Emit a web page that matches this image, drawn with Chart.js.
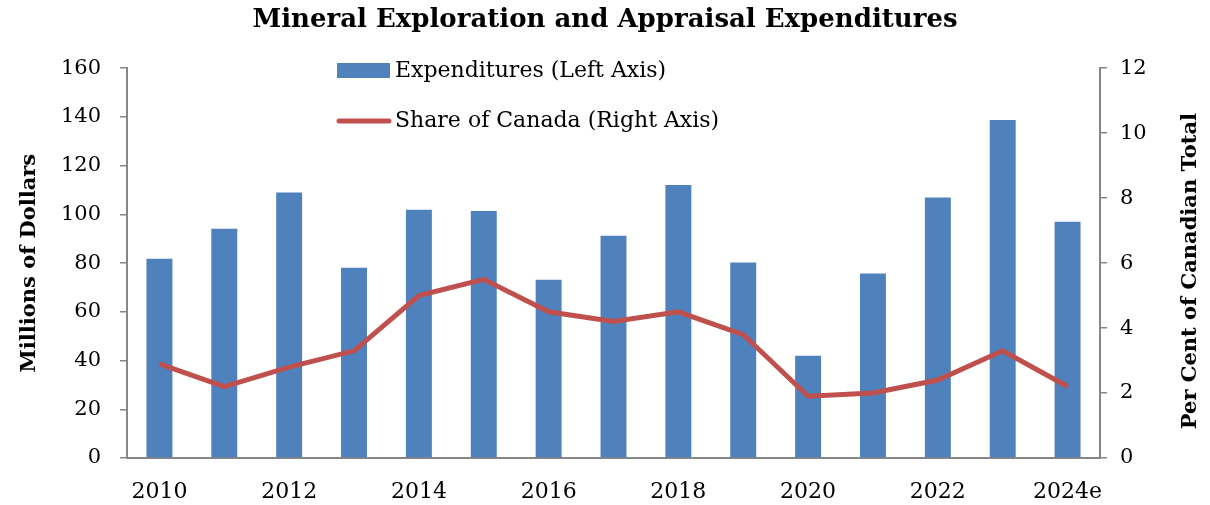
<!DOCTYPE html>
<html>
<head>
<meta charset="utf-8">
<script src="https://cdn.jsdelivr.net/npm/chart.js@4"></script>
<style>
  html, body { margin: 0; padding: 0; background: #fff; }
  #wrap { width: 1210px; height: 505px; }
</style>
</head>
<body>
<div id="wrap"><canvas id="chart" width="1210" height="505"></canvas></div>
<script>
const years = ['2010', '2011', '2012', '2013', '2014', '2015', '2016', '2017', '2018', '2019', '2020', '2021', '2022', '2023', '2024e'];
const expenditures = [81.8, 94.1, 109.0, 78.1, 101.9, 101.4, 73.2, 91.2, 112.1, 80.2, 42.0, 75.7, 106.9, 138.7, 97.0];
const shareOfCanada = [2.9, 2.2, 2.8, 3.3, 5.0, 5.5, 4.5, 4.2, 4.5, 3.8, 1.9, 2.0, 2.4, 3.3, 2.2];

const serif = "'DejaVu Serif', 'Liberation Serif', serif";
const axisGray = '#868686';

// legend sits inside the plot, and the right title reads bottom-to-top
const extrasPlugin = {
    id: 'extras',
    afterDraw(chart) {
        const ctx = chart.ctx;
        ctx.save();
        ctx.font = '22px ' + serif;
        ctx.fillStyle = '#000';
        ctx.textBaseline = 'middle';
        ctx.textAlign = 'left';

        ctx.fillStyle = chart.data.datasets[0].backgroundColor;
        ctx.fillRect(337, 63, 53, 15);
        ctx.fillStyle = '#000';
        ctx.fillText(chart.data.datasets[0].label, 395, 71);

        ctx.strokeStyle = chart.data.datasets[1].borderColor;
        ctx.lineWidth = 5;
        ctx.lineCap = 'round';
        ctx.beginPath();
        ctx.moveTo(339, 121);
        ctx.lineTo(389, 121);
        ctx.stroke();
        ctx.fillText(chart.data.datasets[1].label, 395, 121);

        const area = chart.chartArea;
        ctx.translate(1191, (area.top + area.bottom) / 2 + 8);
        ctx.rotate(-Math.PI / 2);
        ctx.textAlign = 'center';
        ctx.font = 'bold 21px ' + serif;
        ctx.fillText('Per Cent of Canadian Total', 0, 0);
        ctx.restore();
    }
};

new Chart(document.getElementById('chart'), {
    type: 'bar',
    data: {
        labels: years,
        datasets: [{
            label: 'Expenditures (Left Axis)',
            data: expenditures,
            yAxisID: 'y',
            backgroundColor: '#4F81BD',
            categoryPercentage: 1,
            barPercentage: 0.4,
            order: 1
        }, {
            type: 'line',
            label: 'Share of Canada (Right Axis)',
            data: shareOfCanada,
            yAxisID: 'y1',
            borderColor: '#C0504D',
            backgroundColor: '#C0504D',
            borderWidth: 5,
            pointRadius: 0,
            tension: 0,
            order: 0
        }]
    },
    options: {
        responsive: false,
        animation: false,
        plugins: {
            legend: { display: false },
            tooltip: { enabled: false },
            title: {
                display: true,
                text: 'Mineral Exploration and Appraisal Expenditures',
                color: '#000',
                font: { family: serif, size: 26, weight: 'bold' },
                padding: { top: 5, bottom: 32 }
            }
        },
        scales: {
            x: {
                grid: { display: false },
                border: { display: true, color: axisGray, width: 2 },
                ticks: {
                    autoSkip: false,
                    maxRotation: 0,
                    color: '#000',
                    padding: 13,
                    font: { family: serif, size: 22 },
                    callback: (v, i) => (i % 2 === 0 ? years[i] : '')
                },
                afterFit(scale) { scale.height = 47; }
            },
            y: {
                position: 'left',
                min: 0,
                max: 160,
                ticks: { stepSize: 20, color: '#000', padding: 19, font: { family: serif, size: 21 } },
                grid: { drawOnChartArea: false, drawTicks: true, tickLength: 7, color: axisGray, lineWidth: 1.5 },
                border: { color: axisGray, width: 2 },
                title: {
                    display: true,
                    text: 'Millions of Dollars',
                    color: '#000',
                    font: { family: serif, size: 21, weight: 'bold' },
                    padding: { top: 17, bottom: 4 }
                },
                afterFit(scale) { scale.width = 127; }
            },
            y1: {
                position: 'right',
                min: 0,
                max: 12,
                ticks: { stepSize: 2, color: '#000', padding: 13, font: { family: serif, size: 21 } },
                grid: { drawOnChartArea: false, drawTicks: true, tickLength: 7, color: axisGray, lineWidth: 1.5 },
                border: { color: axisGray, width: 2 },
                afterFit(scale) { scale.width = 110; }
            }
        }
    },
    plugins: [extrasPlugin]
});
</script>
</body>
</html>
